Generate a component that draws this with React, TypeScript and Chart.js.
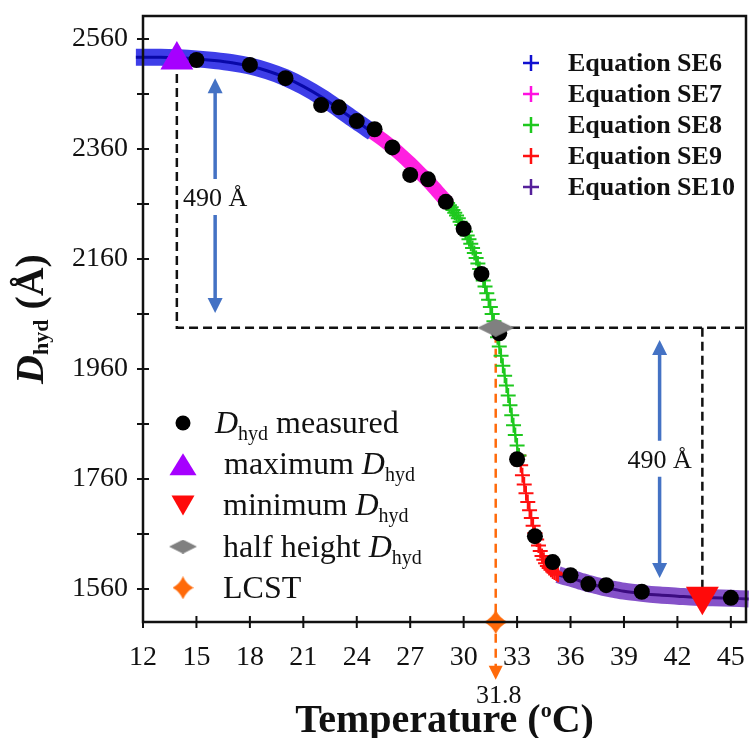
import React, { useEffect, useRef } from 'react';
import { Chart, registerables } from 'chart.js';

Chart.register(...registerables);

// ---------------- data ----------------
const measuredT = [15, 18, 20, 22, 23, 24, 25, 26, 27, 28, 29, 30, 31, 32, 33, 34, 35, 36, 37, 38, 40, 45];
const measuredD = [2522, 2513, 2489, 2440, 2436, 2411, 2396, 2363, 2313, 2305, 2264, 2215, 2133, 2025, 1796, 1656, 1609, 1585, 1569, 1567, 1555, 1544];

const se6T = [11.6, 13, 14, 15, 16, 17, 18, 19, 20, 21, 22, 23, 24, 24.9];
const se6D = [2527, 2527, 2526, 2524, 2521, 2517, 2511, 2502, 2490, 2474, 2455, 2433, 2410, 2390];

const se7T = [24.9, 25.5, 26, 26.5, 27, 27.5, 28, 28.5, 29.1];
const se7D = [2390, 2376, 2363, 2349, 2334, 2318, 2302, 2284, 2262];

const se8T = [29.1, 29.2, 29.3, 29.4, 29.5, 29.6, 29.7, 29.8, 29.9, 30.0, 30.1, 30.2, 30.3, 30.4, 30.5, 30.6, 30.7, 30.8, 30.9, 31.0, 31.1, 31.2, 31.3, 31.4, 31.5, 31.6, 31.7, 31.8, 31.9, 32.0, 32.1, 32.2, 32.3, 32.4, 32.5, 32.6, 32.7, 32.8, 32.9, 33.0, 33.1];
const se8D = [2262, 2258, 2254, 2249, 2244, 2239, 2234, 2228, 2222, 2216, 2210, 2203, 2196, 2188, 2180, 2171, 2162, 2152, 2142, 2132, 2121, 2110, 2098, 2086, 2073, 2060, 2047, 2034, 2018, 2001, 1984, 1966, 1948, 1930, 1912, 1894, 1876, 1858, 1840, 1821, 1803];

const se9T = [33.1, 33.2, 33.3, 33.4, 33.5, 33.6, 33.7, 33.8, 33.9, 34.0, 34.1, 34.2, 34.3, 34.4, 34.5, 34.6, 34.7, 34.8, 34.9, 35.0, 35.1, 35.2, 35.3];
const se9D = [1803, 1785, 1767, 1750, 1734, 1718, 1703, 1689, 1675, 1662, 1650, 1639, 1629, 1620, 1613, 1607, 1602, 1598, 1595, 1592, 1590, 1588, 1586];

const se10T = [35.3, 35.6, 36, 36.5, 37, 37.5, 38, 38.5, 39, 40, 41, 42, 43, 44, 45, 46];
const se10D = [1586, 1583, 1580, 1575, 1570, 1566, 1562, 1559, 1556, 1552, 1549, 1547, 1545, 1544, 1543, 1542];

const maxT = [13.9];
const maxD = [2522];
const minT = [43.4];
const minD = [1547];
const halfT = [31.8];
const halfD = [2035];
const lcstT = [31.8];
const lcstD = [1500];

const xTicks = [12, 15, 18, 21, 24, 27, 30, 33, 36, 39, 42, 45];
const yTicks = [1560, 1660, 1760, 1860, 1960, 2060, 2160, 2260, 2360, 2460, 2560];
const yLabelTicks = [1560, 1760, 1960, 2160, 2360, 2560];

const eqLabels = ['Equation SE6', 'Equation SE7', 'Equation SE8', 'Equation SE9', 'Equation SE10'];
const eqColors = ['#1010d0', '#ff10e0', '#1ec81e', '#ff1010', '#55209a'];

const arrowT = [16.05, 41];
const arrowTop = [2489, 2013];
const arrowBottom = [2062, 1580];
const arrowLabelD = [2273, 1797];
const arrowLabel = '490 Å';
const lcstLabel = '31.8';
const lcstArrowTipD = 1395;
const lcstLabelD = 1369;

// ---------------- styling ----------------
const SERIF = '"Liberation Serif", "Times New Roman", serif';
const BLUE_ARROW = '#4472c4';
const ORANGE = '#ff6a0a';
const MAX_COLOR = '#a600ff';
const MIN_COLOR = '#ff0a0a';
const HALF_COLOR = '#808080';

const pts = (xs: number[], ys: number[]) => xs.map((x, i) => ({ x, y: ys[i] }));

function makeDiamond(w: number, h: number, color: string) {
  const c = document.createElement('canvas');
  c.width = w;
  c.height = h;
  const g = c.getContext('2d')!;
  g.fillStyle = color;
  g.beginPath();
  g.moveTo(w / 2, 0);
  g.lineTo(w, h / 2);
  g.lineTo(w / 2, h);
  g.lineTo(0, h / 2);
  g.closePath();
  g.fill();
  return c;
}

function makeStar(w: number, h: number, color: string) {
  const c = document.createElement('canvas');
  c.width = w;
  c.height = h;
  const g = c.getContext('2d')!;
  const cx = w / 2, cy = h / 2;
  const k = 0.16;
  g.fillStyle = color;
  g.beginPath();
  g.moveTo(cx, 0);
  g.quadraticCurveTo(cx + w * k, cy - h * k, w, cy);
  g.quadraticCurveTo(cx + w * k, cy + h * k, cx, h);
  g.quadraticCurveTo(cx - w * k, cy + h * k, 0, cy);
  g.quadraticCurveTo(cx - w * k, cy - h * k, cx, 0);
  g.closePath();
  g.fill();
  return c;
}

type Seg = { t: string; font: string; dy?: number };

function drawRich(ctx: CanvasRenderingContext2D, segs: Seg[], x: number, y: number, align: 'left' | 'center') {
  ctx.textAlign = 'left';
  ctx.textBaseline = 'alphabetic';
  let total = 0;
  for (const s of segs) {
    ctx.font = s.font;
    total += ctx.measureText(s.t).width;
  }
  let cx = align === 'center' ? x - total / 2 : x;
  for (const s of segs) {
    ctx.font = s.font;
    ctx.fillText(s.t, cx, y + (s.dy || 0));
    cx += ctx.measureText(s.t).width;
  }
}

function arrowHead(ctx: CanvasRenderingContext2D, x: number, tipY: number, dir: number, len: number, half: number) {
  ctx.beginPath();
  ctx.moveTo(x, tipY);
  ctx.lineTo(x - half, tipY - dir * len);
  ctx.lineTo(x + half, tipY - dir * len);
  ctx.closePath();
  ctx.fill();
}

const zeroPad = (s: any) => {
  s.paddingTop = 0;
  s.paddingBottom = 0;
  s.paddingLeft = 0;
  s.paddingRight = 0;
};

const overlayPlugin = {
  id: 'overlay',
  beforeDatasetsDraw(chart: any) {
    const { ctx, chartArea: a, scales } = chart;
    const X = (v: number) => scales.x.getPixelForValue(v);
    const Y = (v: number) => scales.y.getPixelForValue(v);
    ctx.save();
    ctx.strokeStyle = '#111';
    ctx.lineWidth = 2.5;
    ctx.setLineDash([9, 5]);
    ctx.beginPath();
    ctx.moveTo(X(maxT[0]), Y(maxD[0]));
    ctx.lineTo(X(maxT[0]), Y(halfD[0]));
    ctx.lineTo(a.right, Y(halfD[0]));
    ctx.moveTo(X(minT[0]), Y(halfD[0]));
    ctx.lineTo(X(minT[0]), Y(minD[0]));
    ctx.stroke();

    const lx = X(lcstT[0]);
    const tipY = Y(lcstArrowTipD);
    ctx.strokeStyle = ORANGE;
    ctx.setLineDash([9, 6]);
    ctx.beginPath();
    ctx.moveTo(lx, Y(halfD[0]) + 6);
    ctx.lineTo(lx, tipY - 12);
    ctx.stroke();
    ctx.setLineDash([]);
    ctx.fillStyle = ORANGE;
    arrowHead(ctx, lx, tipY, 1, 14, 7);

    ctx.strokeStyle = BLUE_ARROW;
    ctx.fillStyle = BLUE_ARROW;
    ctx.lineWidth = 3.5;
    for (let i = 0; i < arrowT.length; i++) {
      const ax = X(arrowT[i]);
      const top = Y(arrowTop[i]);
      const bot = Y(arrowBottom[i]);
      const mid = Y(arrowLabelD[i]);
      ctx.beginPath();
      ctx.moveTo(ax, top + 12);
      ctx.lineTo(ax, mid - 18);
      ctx.moveTo(ax, mid + 18);
      ctx.lineTo(ax, bot - 12);
      ctx.stroke();
      arrowHead(ctx, ax, top, -1, 15, 7.5);
      arrowHead(ctx, ax, bot, 1, 15, 7.5);
    }
    ctx.restore();
  },
  afterDraw(chart: any) {
    const { ctx, chartArea: a, scales } = chart;
    const X = (v: number) => scales.x.getPixelForValue(v);
    const Y = (v: number) => scales.y.getPixelForValue(v);
    ctx.save();
    ctx.strokeStyle = '#111';
    ctx.lineWidth = 2.5;
    ctx.setLineDash([]);
    ctx.strokeRect(a.left, a.top, a.right - a.left, a.bottom - a.top);
    ctx.lineWidth = 2;
    ctx.beginPath();
    for (const v of xTicks) {
      const px = X(v);
      ctx.moveTo(px, a.bottom - 6);
      ctx.lineTo(px, a.bottom + 6);
    }
    for (const v of yTicks) {
      const py = Y(v);
      ctx.moveTo(a.left - 6, py);
      ctx.lineTo(a.left + 6, py);
    }
    ctx.stroke();

    ctx.fillStyle = '#111';
    for (let i = 0; i < arrowT.length; i++) {
      drawRich(ctx, [{ t: arrowLabel, font: `26px ${SERIF}` }], X(arrowT[i]), Y(arrowLabelD[i]) + 9, 'center');
    }
    drawRich(ctx, [{ t: lcstLabel, font: `26px ${SERIF}` }], X(lcstT[0]) + 3, Y(lcstLabelD) + 9, 'center');

    drawRich(
      ctx,
      [
        { t: 'Temperature (', font: `bold 40px ${SERIF}` },
        { t: 'o', font: `bold 22px ${SERIF}`, dy: -15 },
        { t: 'C)', font: `bold 40px ${SERIF}` },
      ],
      (a.left + a.right) / 2,
      732,
      'center'
    );
    ctx.save();
    ctx.translate(30, (a.top + a.bottom) / 2);
    ctx.rotate(-Math.PI / 2);
    drawRich(
      ctx,
      [
        { t: 'D', font: `italic bold 40px ${SERIF}` },
        { t: 'hyd', font: `bold 22px ${SERIF}`, dy: 5 },
        { t: ' (Å)', font: `bold 40px ${SERIF}` },
      ],
      0,
      13,
      'center'
    );
    ctx.restore();

    for (let i = 0; i < eqLabels.length; i++) {
      const cy = a.top + 47 + i * 31;
      const cx = a.left + 388;
      ctx.strokeStyle = eqColors[i];
      ctx.lineWidth = 2.5;
      ctx.beginPath();
      ctx.moveTo(cx - 8, cy);
      ctx.lineTo(cx + 8, cy);
      ctx.moveTo(cx, cy - 8);
      ctx.lineTo(cx, cy + 8);
      ctx.stroke();
      ctx.fillStyle = '#111';
      drawRich(ctx, [{ t: eqLabels[i], font: `bold 26px ${SERIF}` }], a.left + 425, cy + 8, 'left');
    }

    const mx = a.left + 40;
    const rows = [0, 1, 2, 3, 4].map((i) => a.top + 407 + i * 41.2);
    const reg = `32px ${SERIF}`;
    const ital = `italic 32px ${SERIF}`;
    const sub = `20px ${SERIF}`;
    ctx.fillStyle = '#000';
    ctx.beginPath();
    ctx.arc(mx, rows[0], 7.5, 0, Math.PI * 2);
    ctx.fill();
    ctx.fillStyle = MAX_COLOR;
    ctx.beginPath();
    ctx.moveTo(mx, rows[1] - 11);
    ctx.lineTo(mx + 13.5, rows[1] + 11);
    ctx.lineTo(mx - 13.5, rows[1] + 11);
    ctx.closePath();
    ctx.fill();
    ctx.fillStyle = MIN_COLOR;
    ctx.beginPath();
    ctx.moveTo(mx, rows[2] + 10);
    ctx.lineTo(mx + 11.5, rows[2] - 10);
    ctx.lineTo(mx - 11.5, rows[2] - 10);
    ctx.closePath();
    ctx.fill();
    const dSmall = makeDiamond(28, 14, HALF_COLOR);
    ctx.drawImage(dSmall, mx - 14, rows[3] - 7);
    const sSmall = makeStar(21, 23, ORANGE);
    ctx.drawImage(sSmall, mx - 10.5, rows[4] - 11.5);

    ctx.fillStyle = '#111';
    const by = 10;
    drawRich(ctx, [{ t: 'D', font: ital }, { t: 'hyd', font: sub, dy: 7 }, { t: ' measured', font: reg }], a.left + 72, rows[0] + by, 'left');
    drawRich(ctx, [{ t: 'maximum ', font: reg }, { t: 'D', font: ital }, { t: 'hyd', font: sub, dy: 7 }], a.left + 81, rows[1] + by, 'left');
    drawRich(ctx, [{ t: 'minimum ', font: reg }, { t: 'D', font: ital }, { t: 'hyd', font: sub, dy: 7 }], a.left + 80, rows[2] + by, 'left');
    drawRich(ctx, [{ t: 'half height ', font: reg }, { t: 'D', font: ital }, { t: 'hyd', font: sub, dy: 7 }], a.left + 80, rows[3] + by, 'left');
    drawRich(ctx, [{ t: 'LCST', font: reg }], a.left + 80, rows[4] + by, 'left');

    ctx.restore();
  },
};

export default function App() {
  const ref = useRef<HTMLCanvasElement>(null);

  useEffect(() => {
    const diamond = makeDiamond(37, 18, HALF_COLOR);
    const star = makeStar(24, 24, ORANGE);
    const tickFont = { family: SERIF, size: 28 };

    const chart = new Chart(ref.current as HTMLCanvasElement, {
      type: 'scatter',
      data: {
        datasets: [
          {
            label: 'maximum',
            data: pts(maxT, maxD),
            pointStyle: 'triangle',
            pointRadius: 19,
            backgroundColor: MAX_COLOR,
            borderColor: MAX_COLOR,
            borderWidth: 0,
            order: 0,
            clip: false,
          },
          {
            label: 'minimum',
            data: pts(minT, minD),
            pointStyle: 'triangle',
            rotation: 180,
            pointRadius: 19,
            backgroundColor: MIN_COLOR,
            borderColor: MIN_COLOR,
            borderWidth: 0,
            order: 0,
            clip: false,
          },
          {
            label: 'half height',
            data: pts(halfT, halfD),
            pointStyle: diamond,
            pointRadius: 18,
            order: 0,
            clip: false,
          },
          {
            label: 'LCST',
            data: pts(lcstT, lcstD),
            pointStyle: star,
            pointRadius: 12,
            order: 0,
            clip: false,
          },
          {
            label: 'measured',
            data: pts(measuredT, measuredD),
            pointStyle: 'circle',
            pointRadius: 8,
            backgroundColor: '#000',
            borderColor: '#000',
            borderWidth: 0,
            order: 1,
          },
          {
            label: 'Equation SE8',
            data: pts(se8T, se8D),
            showLine: true,
            borderColor: eqColors[2],
            borderWidth: 2,
            pointStyle: 'cross',
            pointRadius: 7.5,
            pointBorderWidth: 2,
            pointBorderColor: eqColors[2],
            order: 2,
          },
          {
            label: 'Equation SE9',
            data: pts(se9T, se9D),
            showLine: true,
            borderColor: eqColors[3],
            borderWidth: 2,
            pointStyle: 'cross',
            pointRadius: 7.5,
            pointBorderWidth: 2,
            pointBorderColor: eqColors[3],
            order: 2,
          },
          {
            label: 'SE6 core',
            data: pts(se6T, se6D),
            showLine: true,
            borderColor: '#0808a8',
            borderWidth: 3,
            pointRadius: 0,
            cubicInterpolationMode: 'monotone',
            order: 3,
            clip: false,
          },
          {
            label: 'SE10 core',
            data: pts(se10T, se10D),
            showLine: true,
            borderColor: '#3c0c80',
            borderWidth: 3,
            pointRadius: 0,
            cubicInterpolationMode: 'monotone',
            order: 3,
            clip: false,
          },
          {
            label: 'Equation SE6',
            data: pts(se6T, se6D),
            showLine: true,
            borderColor: 'rgba(28,28,228,0.85)',
            borderWidth: 17,
            pointRadius: 0,
            cubicInterpolationMode: 'monotone',
            order: 4,
            clip: false,
          },
          {
            label: 'Equation SE7',
            data: pts(se7T, se7D),
            showLine: true,
            borderColor: 'rgba(255,20,222,0.95)',
            borderWidth: 14,
            pointRadius: 0,
            cubicInterpolationMode: 'monotone',
            order: 4,
          },
          {
            label: 'Equation SE10',
            data: pts(se10T, se10D),
            showLine: true,
            borderColor: 'rgba(112,52,192,0.85)',
            borderWidth: 17,
            pointRadius: 0,
            cubicInterpolationMode: 'monotone',
            order: 4,
            clip: false,
          },
        ],
      },
      options: {
        responsive: false,
        devicePixelRatio: 1,
        animation: false,
        layout: { autoPadding: false, padding: { left: 0, right: 4, top: 16, bottom: 0 } },
        plugins: { legend: { display: false }, tooltip: { enabled: false } },
        events: [],
        scales: {
          x: {
            type: 'linear',
            min: 12,
            max: 45.85,
            afterBuildTicks: (s: any) => {
              s.ticks = xTicks.map((v) => ({ value: v }));
            },
            afterFit: (s: any) => {
              s.height = 116;
              zeroPad(s);
            },
            grid: { display: false, drawTicks: false },
            border: { display: false },
            ticks: {
              font: tickFont,
              color: '#111',
              padding: 19,
              maxRotation: 0,
              autoSkip: false,
              callback: (v: any) => String(v),
            },
          },
          y: {
            type: 'linear',
            min: 1500,
            max: 2602,
            afterBuildTicks: (s: any) => {
              s.ticks = yTicks.map((v) => ({ value: v }));
            },
            afterFit: (s: any) => {
              s.width = 143;
              zeroPad(s);
            },
            grid: { display: false, drawTicks: false },
            border: { display: false },
            ticks: {
              font: tickFont,
              color: '#111',
              padding: 15,
              autoSkip: false,
              callback: (v: any) => (yLabelTicks.includes(Number(v)) ? String(v) : ''),
            },
          },
        },
      } as any,
      plugins: [overlayPlugin],
    } as any);

    return () => chart.destroy();
  }, []);

  return (
    <div style={{ position: 'absolute', left: 0, top: 0, width: 750, height: 738, background: '#fff' }}>
      <canvas ref={ref} width={750} height={738} style={{ display: 'block', width: 750, height: 738 }} />
    </div>
  );
}
